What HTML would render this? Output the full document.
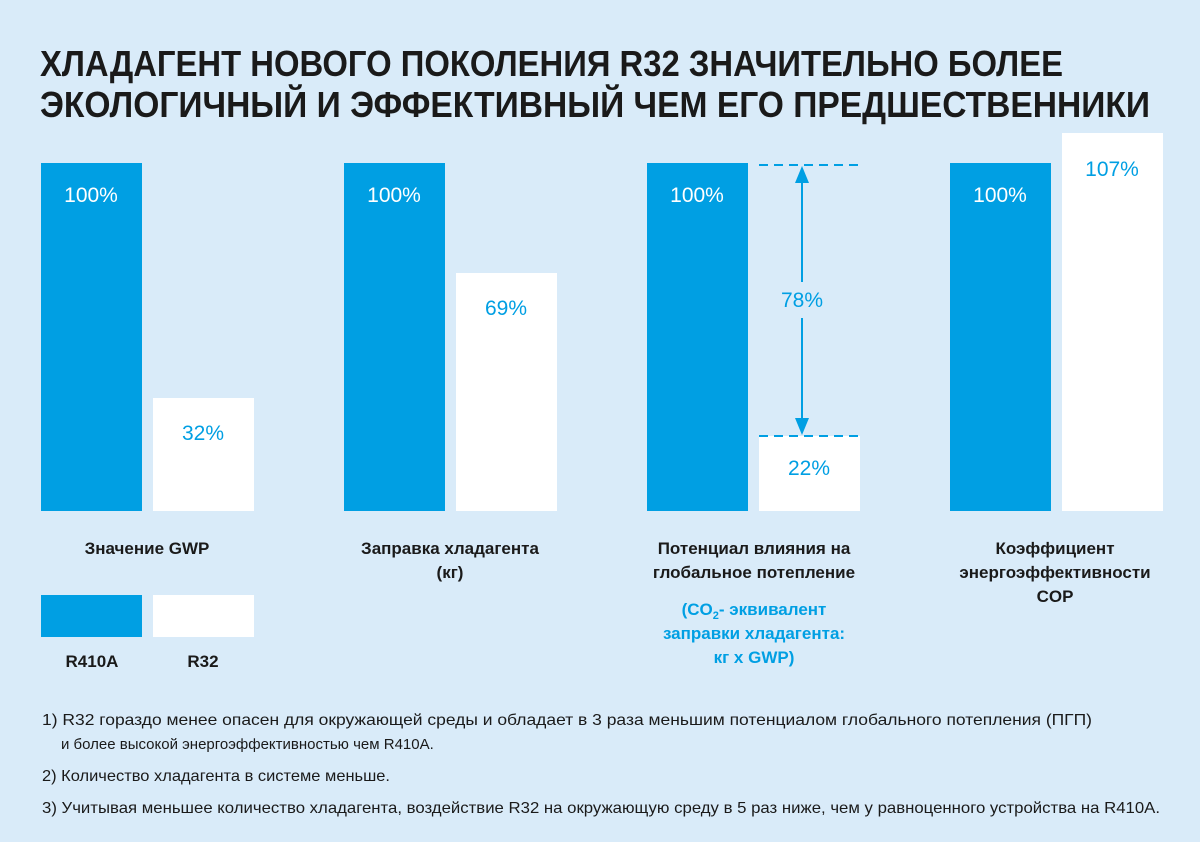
<!DOCTYPE html>
<html><head><meta charset="utf-8"><style>
html,body{margin:0;padding:0;background:#d9ebf9;}
svg{display:block;}
text{font-family:"Liberation Sans",sans-serif;}
</style></head><body>
<svg width="1200" height="842" viewBox="0 0 1200 842" xmlns="http://www.w3.org/2000/svg">
<rect width="1200" height="842" fill="#d9ebf9"/>
<g font-weight="bold" font-size="36" fill="#1a1a1a">
<text x="40" y="76" textLength="1023" lengthAdjust="spacingAndGlyphs">ХЛАДАГЕНТ НОВОГО ПОКОЛЕНИЯ R32 ЗНАЧИТЕЛЬНО БОЛЕЕ</text>
<text x="40" y="117" textLength="1110" lengthAdjust="spacingAndGlyphs">ЭКОЛОГИЧНЫЙ И ЭФФЕКТИВНЫЙ ЧЕМ ЕГО ПРЕДШЕСТВЕННИКИ</text>
</g>
<g fill="#009fe3">
<rect x="41" y="163" width="101" height="348"/>
<rect x="344" y="163" width="101" height="348"/>
<rect x="647" y="163" width="101" height="348"/>
<rect x="950" y="163" width="101" height="348"/>
<rect x="41" y="595" width="101" height="42"/>
</g>
<g fill="#ffffff">
<rect x="153" y="398" width="101" height="113"/>
<rect x="456" y="273" width="101" height="238"/>
<rect x="759" y="436" width="101" height="75"/>
<rect x="1062" y="133" width="101" height="378"/>
<rect x="153" y="595" width="101" height="42"/>
</g>
<g stroke="#009fe3" stroke-width="2" stroke-dasharray="9,6">
<line x1="759" y1="165" x2="862" y2="165"/>
<line x1="759" y1="436" x2="862" y2="436"/>
</g>
<line x1="802" y1="180" x2="802" y2="282" stroke="#009fe3" stroke-width="2"/>
<line x1="802" y1="318" x2="802" y2="420" stroke="#009fe3" stroke-width="2"/>
<polygon points="802,166 795,183 809,183" fill="#009fe3"/>
<polygon points="802,435 795,418 809,418" fill="#009fe3"/>
<g font-size="21" fill="#fff" text-anchor="middle">
<text x="91" y="202">100%</text>
<text x="394" y="202">100%</text>
<text x="697" y="202">100%</text>
<text x="1000" y="202">100%</text>
</g>
<g font-size="21" fill="#009fe3" text-anchor="middle">
<text x="203" y="440">32%</text>
<text x="506" y="315">69%</text>
<text x="802" y="307">78%</text>
<text x="809" y="475">22%</text>
<text x="1112" y="176">107%</text>
</g>
<g font-size="17" font-weight="bold" fill="#1a1a1a" text-anchor="middle">
<text x="147" y="554">Значение GWP</text>
<text x="450" y="554">Заправка хладагента</text>
<text x="450" y="578">(кг)</text>
<text x="754" y="554">Потенциал влияния на</text>
<text x="754" y="578">глобальное потепление</text>
<text x="1055" y="554">Коэффициент</text>
<text x="1055" y="578">энергоэффективности</text>
<text x="1055" y="602">COP</text>
<text x="92" y="667">R410A</text>
<text x="203" y="667">R32</text>
</g>
<g font-size="17" font-weight="bold" fill="#009fe3" text-anchor="middle">
<text x="754" y="615">(CO<tspan font-size="11" dy="4">2</tspan><tspan dy="-4">- эквивалент</tspan></text>
<text x="754" y="639">заправки хладагента:</text>
<text x="754" y="663">кг х GWP)</text>
</g>
<g font-size="16" fill="#1a1a1a">
<text x="42" y="725" textLength="1050" lengthAdjust="spacingAndGlyphs">1) R32 гораздо менее опасен для окружающей среды и обладает в 3 раза меньшим потенциалом глобального потепления (ПГП)</text>
<text x="61" y="749" font-size="15">и более высокой энергоэффективностью чем R410A.</text>
<text x="42" y="781" textLength="348" lengthAdjust="spacingAndGlyphs">2) Количество хладагента в системе меньше.</text>
<text x="42" y="813" textLength="1118" lengthAdjust="spacingAndGlyphs">3) Учитывая меньшее количество хладагента, воздействие R32 на окружающую среду в 5 раз ниже, чем у равноценного устройства на R410A.</text>
</g>
</svg>
</body></html>
